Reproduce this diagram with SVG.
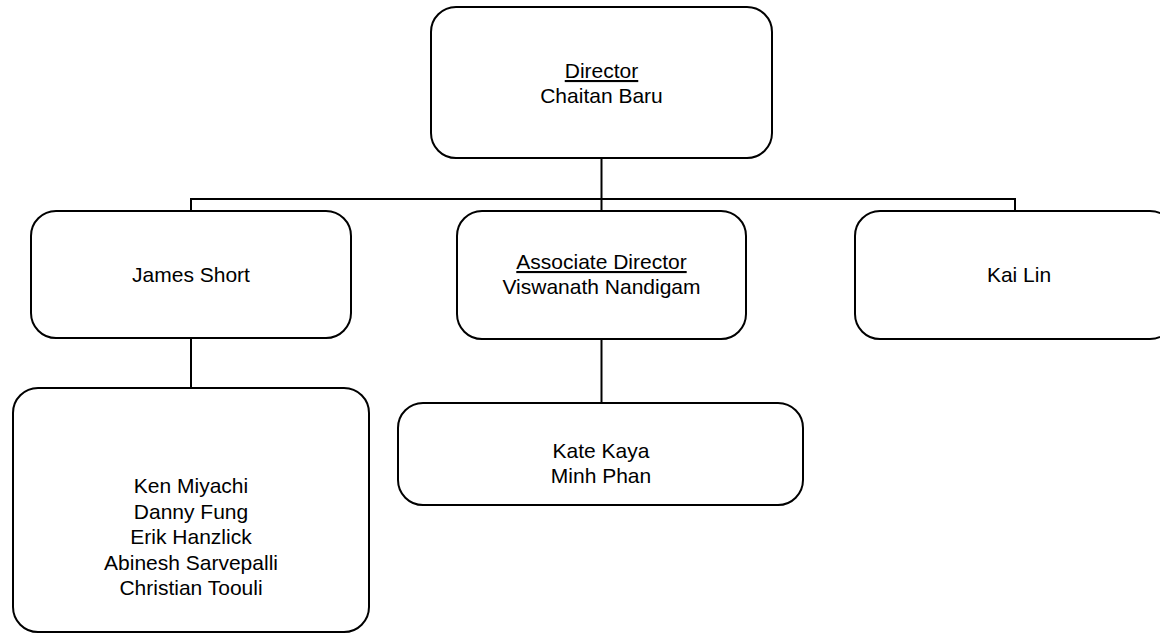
<svg xmlns="http://www.w3.org/2000/svg" width="1160" height="633" viewBox="0 0 1160 633">
<style>
.box{fill:#fff;stroke:#000;stroke-width:2}
.conn{fill:none;stroke:#000;stroke-width:2}
text{font-family:"Liberation Sans",Arial,sans-serif;font-size:21px;fill:#000;text-anchor:middle}
.u{text-decoration:underline}
</style>
<rect width="1160" height="633" fill="#fff"/>
<g id="connectors">
<line class="conn" x1="601.5" y1="158" x2="601.5" y2="211"/>
<polyline class="conn" points="191,211 191,199 1015,199 1015,211"/>
<line class="conn" x1="191" y1="338" x2="191" y2="388"/>
<line class="conn" x1="601.5" y1="339" x2="601.5" y2="403"/>
</g>
<g id="director">
<rect class="box" x="431" y="7" width="341" height="151" rx="25"/>
<text x="601.5" y="78" class="u">Director</text>
<text x="601.5" y="103">Chaitan Baru</text>
</g>
<g id="james-short">
<rect class="box" x="31" y="211" width="320" height="127" rx="25"/>
<text x="191" y="282">James Short</text>
</g>
<g id="associate-director">
<rect class="box" x="457" y="211" width="289" height="128" rx="25"/>
<text x="601.5" y="269" class="u">Associate Director</text>
<text x="601.5" y="294">Viswanath Nandigam</text>
</g>
<g id="kai-lin">
<rect class="box" x="855" y="211" width="320" height="128" rx="25"/>
<text x="1019" y="282">Kai Lin</text>
</g>
<g id="team-james">
<rect class="box" x="13" y="388" width="356" height="244" rx="25"/>
<text x="191" y="493">Ken Miyachi</text>
<text x="191" y="518.5">Danny Fung</text>
<text x="191" y="544">Erik Hanzlick</text>
<text x="191" y="569.5">Abinesh Sarvepalli</text>
<text x="191" y="595">Christian Toouli</text>
</g>
<g id="team-associate">
<rect class="box" x="398" y="403" width="405" height="102" rx="25"/>
<text x="601" y="458">Kate Kaya</text>
<text x="601" y="483">Minh Phan</text>
</g>
</svg>
